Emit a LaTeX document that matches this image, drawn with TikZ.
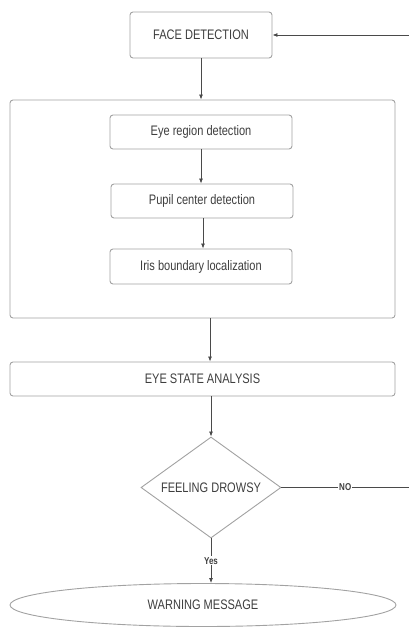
\documentclass[tikz,border=0pt]{standalone}
\usepackage{fontspec}
\setmainfont[FakeStretch=0.8]{Liberation Sans}
\usetikzlibrary{shapes.geometric,arrows.meta}
\definecolor{linegray}{HTML}{4A4A4A}
\definecolor{boxgray}{HTML}{A2A2A2}
\definecolor{textgray}{HTML}{3E3E3E}
\begin{document}
\begin{tikzpicture}[x=1pt,y=-1pt,
        box/.style={draw=boxgray,line width=0.9pt,rounded corners=3pt,fill=white,
            text=textgray,font=\fontsize{13.8}{16}\selectfont,inner sep=0pt},
        arr/.style={draw=linegray,line width=0.8pt,-{Latex[length=5pt,width=4pt]}},
        tag/.style={fill=white,text=textgray,inner sep=1pt,
            font=\bfseries\fontsize{10}{12}\selectfont}]
            \useasboundingbox (0,0) rectangle (409,627);

            \node[box,minimum width=142,minimum height=46] (face) at (201,35) {FACE DETECTION};
            \node[box,minimum width=385,minimum height=218] (eyes) at (202.5,209) {};
            \node[box,minimum width=182,minimum height=34] (region) at (201,132) {Eye region detection};
            \node[box,minimum width=182,minimum height=34] (pupil) at (202,201) {Pupil center detection};
            \node[box,minimum width=182,minimum height=35] (iris) at (201,266.5) {Iris boundary localization};
            \node[box,minimum width=385,minimum height=34] (state) at (202.5,379) {EYE STATE ANALYSIS};
            \node[box,rounded corners=0pt,diamond,aspect=1.386,minimum width=140,minimum height=101]
                (drowsy) at (211,487.5) {FEELING DROWSY};
            \node[box,rounded corners=0pt,ellipse,minimum width=386,minimum height=43] (warn) at (203,605) {WARNING MESSAGE};

            \coordinate (noend) at (409,487.5);
            \coordinate (loopin) at (409,35);

            \draw[arr] (face.south) -- (face.south |- eyes.north);
            \draw[arr] (region.south) -- (region.south |- pupil.north);
            \draw[arr] ([xshift=1pt]pupil.south) -- ([xshift=1pt]pupil.south |- iris.north);
            \draw[arr] ([xshift=7.5pt]eyes.south) -- ([xshift=7.5pt]eyes.south |- state.north);
            \draw[arr] (drowsy.north |- state.south) -- (drowsy.north);
            \draw[arr] (drowsy.south) -- node[tag,pos=0.5] {Yes} (drowsy.south |- warn.north);
            \draw[draw=linegray,line width=0.8pt] (drowsy.east) -- node[tag,pos=0.5] {NO} (noend);
            \draw[arr] (loopin) -- (face.east);
        \end{tikzpicture}
\end{document}
